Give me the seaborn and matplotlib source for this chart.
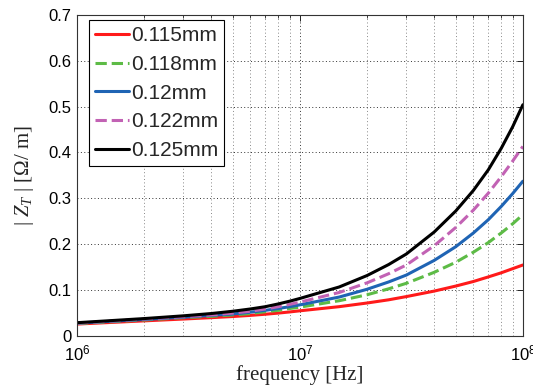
import matplotlib
matplotlib.use("Agg")
import matplotlib.pyplot as plt
import matplotlib.ticker as mticker
import numpy as np
import pandas as pd
import seaborn as sns

# Frequency samples [Hz]
freq = [1e6, 2e6, 3e6, 4e6, 5e6, 6e6, 7e6, 8e6, 9e6, 1e7,
        1.5e7, 2e7, 2.5e7, 3e7, 4e7, 5e7, 6e7, 7e7, 8e7, 9e7, 1e8]

# |Z_T| [Ohm/m] for each conductor size
z_0115 = [0.025, 0.032, 0.036, 0.039, 0.0415, 0.044, 0.0465, 0.049, 0.0515, 0.054,
          0.063, 0.071, 0.078, 0.085, 0.097, 0.108, 0.118, 0.128, 0.137, 0.146, 0.154]
z_0118 = [0.026, 0.034, 0.039, 0.042, 0.045, 0.048, 0.052, 0.055, 0.059, 0.062,
          0.076, 0.089, 0.102, 0.114, 0.138, 0.160, 0.182, 0.203, 0.224, 0.244, 0.264]
z_0120 = [0.027, 0.035, 0.040, 0.044, 0.047, 0.051, 0.055, 0.059, 0.063, 0.067,
          0.084, 0.101, 0.117, 0.132, 0.164, 0.194, 0.224, 0.253, 0.282, 0.310, 0.337]
z_0122 = [0.027, 0.036, 0.041, 0.045, 0.049, 0.053, 0.058, 0.063, 0.068, 0.073,
          0.094, 0.115, 0.135, 0.154, 0.196, 0.236, 0.274, 0.311, 0.347, 0.381, 0.413]
z_0125 = [0.028, 0.037, 0.043, 0.048, 0.053, 0.058, 0.063, 0.069, 0.075, 0.081,
          0.106, 0.131, 0.155, 0.178, 0.226, 0.272, 0.317, 0.362, 0.409, 0.456, 0.504]

labels = ["0.115mm", "0.118mm", "0.12mm", "0.122mm", "0.125mm"]
series = [z_0115, z_0118, z_0120, z_0122, z_0125]
colors = ["#ff1a1a", "#5dbb46", "#1f64b4", "#c262b4", "#000000"]
dashes = ["-", "--", "-", "--", "-"]

y_ticks = [0, 0.1, 0.2, 0.3, 0.4, 0.5, 0.6, 0.7]
y_ticklabels = ["0", "0.1", "0.2", "0.3", "0.4", "0.5", "0.6", "0.7"]

df = pd.concat(
    [pd.DataFrame({"freq": freq, "Z": z, "size": lab}) for z, lab in zip(series, labels)],
    ignore_index=True,
)

sns.set_theme(style="white")
plt.rcParams["font.family"] = ["Liberation Sans", "DejaVu Sans"]
plt.rcParams["mathtext.fontset"] = "custom"
plt.rcParams["mathtext.rm"] = "Liberation Serif"
plt.rcParams["mathtext.it"] = "Liberation Serif:italic"

fig = plt.figure(figsize=(5.33, 3.89), dpi=100)
ax = fig.add_axes([0.1445, 0.1375, 0.8365, 0.8239])

for lab, col, ls in zip(labels, colors, dashes):
    sub = df[df["size"] == lab]
    sns.lineplot(data=sub, x="freq", y="Z", ax=ax, color=col, linestyle=ls,
                 linewidth=2.2, label=lab, dashes=False)

ax.set_xscale("log")
ax.set_xlim(1e6, 1e8)
ax.set_ylim(0, 0.7)
ax.set_yticks(y_ticks)
ax.set_yticklabels(y_ticklabels)
ax.xaxis.set_major_locator(mticker.LogLocator(base=10, numticks=5))
ax.xaxis.set_minor_locator(mticker.LogLocator(base=10, subs=np.arange(2, 10), numticks=20))
ax.xaxis.set_minor_formatter(mticker.NullFormatter())

ax.grid(True, which="major", color="#333333", linestyle=(0, (1, 2.5)), linewidth=0.7)
ax.grid(True, which="minor", axis="x", color="#888888", linestyle=(0, (1, 2.5)), linewidth=0.7)

ax.tick_params(which="both", direction="in", top=True, right=True, colors="#222222",
               labelsize=12, labelcolor="black")
ax.tick_params(which="major", length=4, width=0.7)
ax.tick_params(which="minor", length=2, width=0.6)
ax.tick_params(axis="x", pad=6)
ax.tick_params(axis="y", pad=4)
for s in ax.spines.values():
    s.set_color("#333333")
    s.set_linewidth(0.8)

ax.set_xlabel("frequency [Hz]", family=["Liberation Serif"], fontsize=15, labelpad=1)
ax.set_ylabel(r"$|\ Z_T\ |$ [Ω/ m]", family=["Liberation Serif"], fontsize=15, labelpad=9)

leg = ax.legend(loc="upper left", bbox_to_anchor=(0.027, 0.985), fontsize=15,
                frameon=True, fancybox=False, edgecolor="black", framealpha=1,
                handlelength=1.6, handletextpad=0.1, labelspacing=0.47,
                borderpad=0.3, borderaxespad=0)
leg.get_frame().set_linewidth(0.8)

fig.savefig("out.png", dpi=100, facecolor="white")
